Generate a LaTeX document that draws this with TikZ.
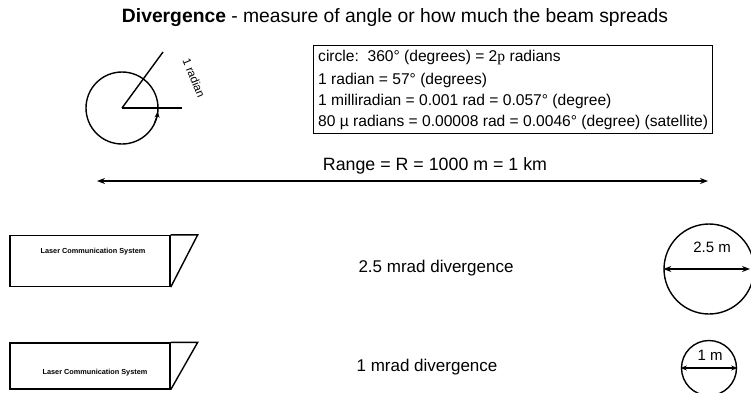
\documentclass[tikz,border=0pt]{standalone}
\usepackage{fontspec}
\setmainfont{Liberation Sans}
\newfontfamily\serifp{Liberation Serif}
\usetikzlibrary{arrows.meta}
\begin{document}
\begin{tikzpicture}[x=1pt,y=-1pt,
  line/.style={line width=1.4pt},
  dbl/.style={line width=1.3pt,{Stealth[length=8pt,width=6pt]}-{Stealth[length=8pt,width=6pt]}},
  dbls/.style={line width=1.3pt,{Stealth[length=6pt,width=5pt]}-{Stealth[length=6pt,width=5pt]}},
  lbl/.style={inner sep=0pt, font=\fontsize{17}{20}\selectfont},
  boxtxt/.style={inner sep=0pt, anchor=west, font=\fontsize{15.6}{19}\selectfont},
  lasertxt/.style={inner sep=0pt, font=\bfseries\fontsize{7.3}{8}\selectfont},
  lcs/.style={draw, line width=1.4pt, minimum width=160pt, minimum height=51pt, inner sep=0pt},
  ring/.style={circle, draw, line width=1.4pt, inner sep=0pt},
]
\useasboundingbox (0,0) rectangle (751,392);
\fill[white] (0,0) rectangle (751,392);
\clip (0,0) rectangle (751,392);

\node[lbl, font=\fontsize{19.3}{22}\selectfont] (title) at (395,18) {\textbf{Divergence} - measure of angle or how much the beam spreads};

% radian sketch
\coordinate (O) at (122,108);
\node[ring, minimum size=72pt] (rc) at (O) {};
\coordinate (h) at (182,108);
\coordinate (a) at (163,52);
\draw[line] (O) -- (h);
\draw[line] (O) -- (a);
\coordinate (ar) at (154.4,123);
\draw[line width=1.2pt, -{Stealth[length=6pt,width=5pt]}] (ar) arc[start angle=26, end angle=7, radius=36];
\node[inner sep=0pt, rotate=-68, font=\fontsize{11.5}{14}\selectfont] (rad) at (194,78) {1 radian};

% definitions box
\node[draw, line width=1.2pt, anchor=north west, minimum width=399pt, minimum height=88pt, inner sep=0pt] (box) at (313,45) {};
\node[boxtxt] (l1) at (318,58) {circle:\ \ 360° (degrees) = 2{\serifp p} radians};
\node[boxtxt] (l2) at (318,80) {1 radian = 57° (degrees)};
\node[boxtxt] (l3) at (318,101) {1 milliradian = 0.001 rad = 0.057° (degree)};
\node[boxtxt] (l4) at (318,122) {80 µ radians = 0.00008 rad = 0.0046° (degree) (satellite)};

% range
\node[lbl, font=\fontsize{17.8}{20}\selectfont] (range) at (435,166) {Range = R = 1000 m = 1 km};
\coordinate (rl) at (97,181);
\coordinate (rr) at (708,181);
\draw[dbl] (rl) -- (rr);

% laser systems
\node[lcs] (lcs1) at (90,261) {};
\draw[line] (lcs1.north east) -- ++(27,0) -- (lcs1.south east);
\node[lasertxt] (t1) at (93,252) {Laser Communication System};
\node[lcs, minimum height=46pt] (lcs2) at (90,366) {};
\draw[line] (lcs2.north east) -- ++(27,0) -- (lcs2.south east);
\node[lasertxt] (t2) at (95,373) {Laser Communication System};

\node[lbl] (d1) at (436,268) {2.5 mrad divergence};
\node[lbl] (d2) at (427,367) {1 mrad divergence};

% beam spots
\node[ring, minimum size=90pt] (bc) at (709,269) {};
\coordinate (be) at (750,269);
\draw[dbl] (bc.west) -- (be);
\node[inner sep=0pt, font=\fontsize{15}{18}\selectfont] (m25) at (712,247) {2.5 m};

\node[ring, minimum size=55pt] (sc) at (709,368) {};
\draw[dbls] (sc.west) -- (sc.east);
\node[inner sep=0pt, font=\fontsize{15}{18}\selectfont] (m1) at (710,355) {1 m};
\end{tikzpicture}
\end{document}
